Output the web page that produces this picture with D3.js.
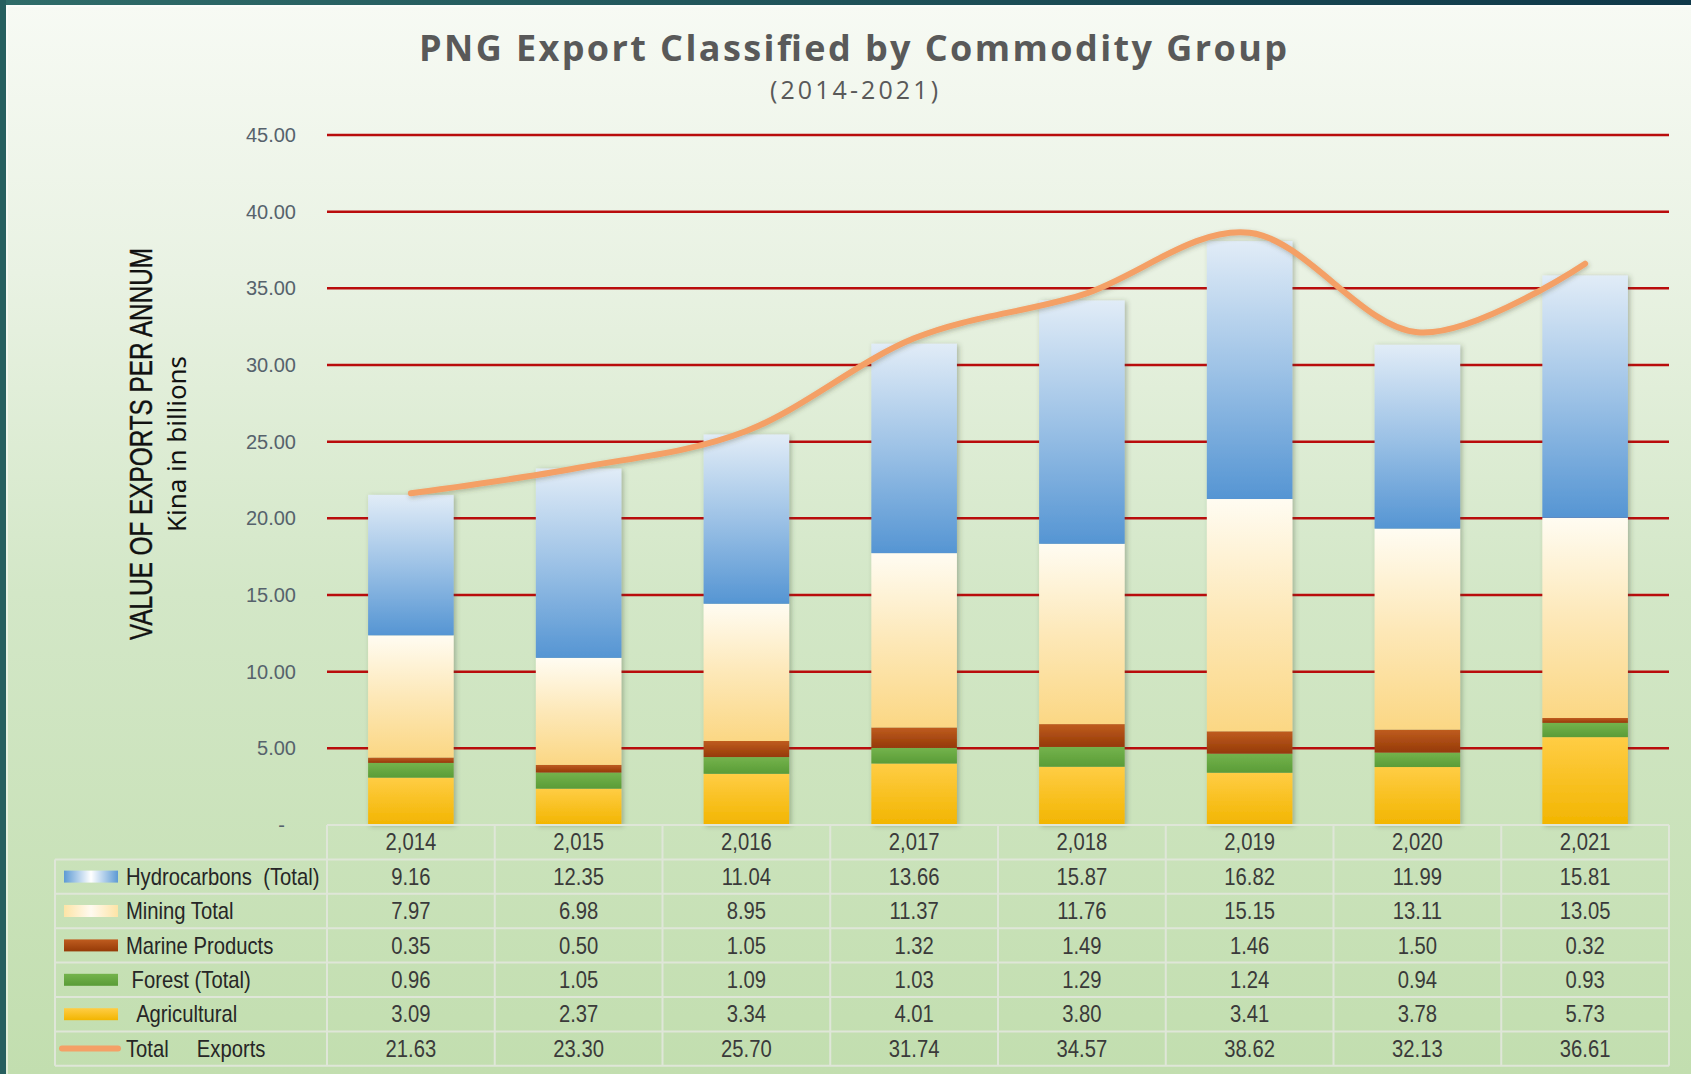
<!DOCTYPE html>
<html>
<head>
<meta charset="utf-8">
<script src="https://cdn.jsdelivr.net/npm/d3@7"></script>
<style>
  body { margin: 0; background: #265f5f; }
  svg { display: block; }
  text { white-space: pre; }
</style>
</head>
<body>
<svg id="chart" width="1691" height="1074"></svg>
<script>
// values
const years = [2014, 2015, 2016, 2017, 2018, 2019, 2020, 2021];
const hydrocarbons = [9.16, 12.35, 11.04, 13.66, 15.87, 16.82, 11.99, 15.81];
const mining = [7.97, 6.98, 8.95, 11.37, 11.76, 15.15, 13.11, 13.05];
const marine = [0.35, 0.5, 1.05, 1.32, 1.49, 1.46, 1.5, 0.32];
const forest = [0.96, 1.05, 1.09, 1.03, 1.29, 1.24, 0.94, 0.93];
const agricultural = [3.09, 2.37, 3.34, 4.01, 3.8, 3.41, 3.78, 5.73];
const totalExports = [21.63, 23.3, 25.7, 31.74, 34.57, 38.62, 32.13, 36.61];
const yTicks = [0, 5, 10, 15, 20, 25, 30, 35, 40, 45];

// stack order, bottom to top
const stackKeys = ["agri", "forest", "marine", "mining", "hydro"];
const seriesValues = {
  hydro: hydrocarbons,
  mining: mining,
  marine: marine,
  forest: forest,
  agri: agricultural
};
// table rows, top to bottom
const tableRows = [
  { key: "hydro", label: "Hydrocarbons  (Total)" },
  { key: "mining", label: "Mining Total" },
  { key: "marine", label: "Marine Products" },
  { key: "forest", label: " Forest (Total)" },
  { key: "agri", label: "  Agricultural" },
  { key: "total", label: "Total     Exports" }
];

const rows = years.map((yr, i) => {
  const r = { year: yr };
  stackKeys.forEach(k => (r[k] = seriesValues[k][i]));
  return r;
});

const svg = d3.select("#chart");
const defs = svg.append("defs");

function vGrad(id, stops, horizontal) {
  const g = defs.append("linearGradient").attr("id", id)
    .attr("x1", 0).attr("y1", 0)
    .attr("x2", horizontal ? 1 : 0).attr("y2", horizontal ? 0 : 1);
  stops.forEach(([o, c]) => g.append("stop").attr("offset", o).attr("stop-color", c));
}
vGrad("bg", [[0, "#f7faf4"], [0.25, "#e9f2e3"], [0.55, "#d3e7c7"], [1, "#c2deaf"]]);
vGrad("topband", [[0, "#2f6c69"], [1, "#0f3849"]], true);
vGrad("g-hydro", [[0, "#e1ecf7"], [0.5, "#9dc2e6"], [1, "#5595d3"]]);
vGrad("g-mining", [[0, "#fffcf2"], [0.5, "#fde8b8"], [1, "#fbd784"]]);
vGrad("g-marine", [[0, "#bf5c1f"], [1, "#953a07"]]);
vGrad("g-forest", [[0, "#74b34c"], [1, "#5a9c37"]]);
vGrad("g-agri", [[0, "#ffcd45"], [1, "#f2b500"]]);
vGrad("s-hydro", [[0, "#5d9ad4"], [0.5, "#ffffff"], [1, "#5d9ad4"]], true);
vGrad("s-mining", [[0, "#fde4a6"], [0.5, "#fffaf0"], [1, "#fde4a6"]], true);

const shadow = defs.append("filter").attr("id", "shadow")
  .attr("x", "-20%").attr("y", "-5%").attr("width", "140%").attr("height", "110%");
shadow.append("feDropShadow").attr("dx", 2).attr("dy", 1).attr("stdDeviation", 2.5)
  .attr("flood-color", "#3d4a30").attr("flood-opacity", 0.35);

const lineShadow = defs.append("filter").attr("id", "lshadow")
  .attr("x", "-5%").attr("y", "-20%").attr("width", "110%").attr("height", "140%");
lineShadow.append("feDropShadow").attr("dx", 1).attr("dy", 2).attr("stdDeviation", 2)
  .attr("flood-color", "#4a4a30").attr("flood-opacity", 0.3);

// frame + panel
svg.append("rect").attr("width", 1691).attr("height", 1074).attr("fill", "#265f5f");
svg.append("rect").attr("x", 6).attr("width", 1685).attr("height", 5).attr("fill", "url(#topband)");
svg.append("rect").attr("x", 6).attr("y", 5).attr("width", 1685).attr("height", 1069).attr("fill", "url(#bg)");
svg.append("rect").attr("x", 7).attr("y", 6).attr("width", 1690).attr("height", 1075)
  .attr("fill", "none").attr("stroke", "#ffffff").attr("stroke-opacity", 0.5).attr("stroke-width", 2);

// title
svg.append("text")
  .attr("x", 853).attr("y", 61)
  .attr("text-anchor", "middle")
  .attr("font-family", "'Open Sans', sans-serif")
  .attr("font-weight", 700).attr("font-size", 36)
  .attr("textLength", 868).attr("lengthAdjust", "spacing")
  .attr("fill", "#595959")
  .text("PNG Export Classified by Commodity Group");
svg.append("text")
  .attr("x", 854).attr("y", 99)
  .attr("text-anchor", "middle")
  .attr("font-family", "'Open Sans', sans-serif")
  .attr("font-size", 25)
  .attr("textLength", 168).attr("lengthAdjust", "spacing")
  .attr("fill", "#595959")
  .text("(2014-2021)");

// scales
const x = d3.scaleBand().domain(years).range([327, 1669])
  .paddingInner(0.49).paddingOuter(0.245);
const y = d3.scaleLinear().domain([0, 45]).range([825, 135]);

// gridlines
svg.append("g").selectAll("line")
  .data(yTicks.filter(t => t > 0))
  .join("line")
  .attr("x1", 327).attr("x2", 1669)
  .attr("y1", d => y(d)).attr("y2", d => y(d))
  .attr("stroke", "#b90c0c").attr("stroke-width", 2.5);

// y axis
const yAxis = svg.append("g")
  .attr("transform", "translate(299,0)")
  .call(d3.axisLeft(y).tickValues(yTicks).tickSize(0)
    .tickFormat(d => (d === 0 ? "-" : d3.format(".2f")(d))));
yAxis.select(".domain").remove();
yAxis.selectAll("text")
  .attr("font-family", "'Liberation Sans', Arial, sans-serif")
  .attr("font-size", 20).attr("fill", "#56626c")
  .attr("x", d => (d === 0 ? -14 : -3));

// y axis title
svg.append("text")
  .attr("transform", "translate(152,444) rotate(-90)")
  .attr("text-anchor", "middle")
  .attr("font-family", "'Liberation Sans', sans-serif")
  .attr("font-size", 31)
  .attr("textLength", 392).attr("lengthAdjust", "spacingAndGlyphs")
  .attr("fill", "#111")
  .attr("stroke", "#111").attr("stroke-width", 0.4)
  .text("VALUE OF EXPORTS PER ANNUM");
svg.append("text")
  .attr("transform", "translate(186,444) rotate(-90)")
  .attr("text-anchor", "middle")
  .attr("font-family", "'Noto Sans', sans-serif")
  .attr("font-size", 26)
  .attr("textLength", 176).attr("lengthAdjust", "spacingAndGlyphs")
  .attr("fill", "#111")
  .text("Kina in billions");

// stacked bars
const stacked = d3.stack().keys(stackKeys)(rows);
const barGroups = svg.append("g").selectAll("g")
  .data(rows)
  .join("g")
  .attr("filter", "url(#shadow)");
barGroups.each(function (row, i) {
  d3.select(this).selectAll("rect")
    .data(stacked.map(s => ({ key: s.key, seg: s[i] })))
    .join("rect")
    .attr("x", x(row.year))
    .attr("width", x.bandwidth())
    .attr("y", d => y(d.seg[1]))
    .attr("height", d => y(d.seg[0]) - y(d.seg[1]))
    .attr("fill", d => `url(#g-${d.key})`);
});

// total exports line
const line = d3.line()
  .x((d, i) => x(years[i]) + x.bandwidth() / 2)
  .y(d => y(d))
  .curve(d3.curveCardinal.tension(0));
svg.append("path")
  .datum(totalExports)
  .attr("d", line)
  .attr("fill", "none")
  .attr("stroke", "#f4a066")
  .attr("stroke-width", 6)
  .attr("stroke-linecap", "round")
  .attr("filter", "url(#lshadow)");

// data table
const rowH = 34.4;
const headTop = 825;
const bodyTop = headTop + rowH;
const tableLeft = 55;
const tableRight = 1669;
const table = svg.append("g");
const lineColor = "#dfe6d8";
const colEdges = years.map(yr => x(yr) - x.step() * x.paddingOuter()).concat([tableRight]);

table.append("line")
  .attr("x1", 327).attr("x2", tableRight)
  .attr("y1", headTop).attr("y2", headTop)
  .attr("stroke", lineColor).attr("stroke-width", 2);
table.selectAll(".hline")
  .data(d3.range(tableRows.length + 1))
  .join("line")
  .attr("x1", tableLeft).attr("x2", tableRight)
  .attr("y1", i => bodyTop + i * rowH).attr("y2", i => bodyTop + i * rowH)
  .attr("stroke", lineColor).attr("stroke-width", 2);
table.selectAll(".vline")
  .data(colEdges)
  .join("line")
  .attr("x1", d => d).attr("x2", d => d)
  .attr("y1", headTop).attr("y2", bodyTop + tableRows.length * rowH)
  .attr("stroke", lineColor).attr("stroke-width", 2);
table.append("line")
  .attr("x1", tableLeft).attr("x2", tableLeft)
  .attr("y1", bodyTop).attr("y2", bodyTop + tableRows.length * rowH)
  .attr("stroke", lineColor).attr("stroke-width", 2);

// narrow cell text: regular sans squeezed horizontally
const cellFont = "'Liberation Sans', Arial, sans-serif";
function cellText(sel, px, py, anchor, fill) {
  return sel
    .attr("transform", (d, i) => `translate(${px(d, i)},${py}) scale(0.88,1)`)
    .attr("dy", "0.36em")
    .attr("text-anchor", anchor)
    .attr("font-family", cellFont).attr("font-size", 23)
    .attr("fill", fill);
}

cellText(
  table.selectAll(".yr").data(years).join("text"),
  yr => x(yr) + x.bandwidth() / 2, headTop + rowH / 2, "middle", "#3a3a3a"
).text(d3.format(","));

tableRows.forEach((r, ri) => {
  const cy = bodyTop + ri * rowH + rowH / 2;
  const vals = r.key === "total" ? totalExports : seriesValues[r.key];
  if (r.key === "total") {
    table.append("line")
      .attr("x1", 62).attr("x2", 118).attr("y1", cy).attr("y2", cy)
      .attr("stroke", "#f4a066").attr("stroke-width", 6).attr("stroke-linecap", "round");
  } else {
    const sw = { hydro: "url(#s-hydro)", mining: "url(#s-mining)", marine: "url(#g-marine)",
      forest: "url(#g-forest)", agri: "url(#g-agri)" }[r.key];
    table.append("rect")
      .attr("x", 64).attr("y", cy - 6).attr("width", 54).attr("height", 12)
      .attr("fill", sw);
  }
  cellText(table.append("text"), () => 126, cy, "start", "#262626").text(r.label);
  cellText(
    table.selectAll(null).data(vals).join("text"),
    (v, i) => x(years[i]) + x.bandwidth() / 2, cy, "middle", "#3a3a3a"
  ).text(d3.format(".2f"));
});
</script>
</body>
</html>
